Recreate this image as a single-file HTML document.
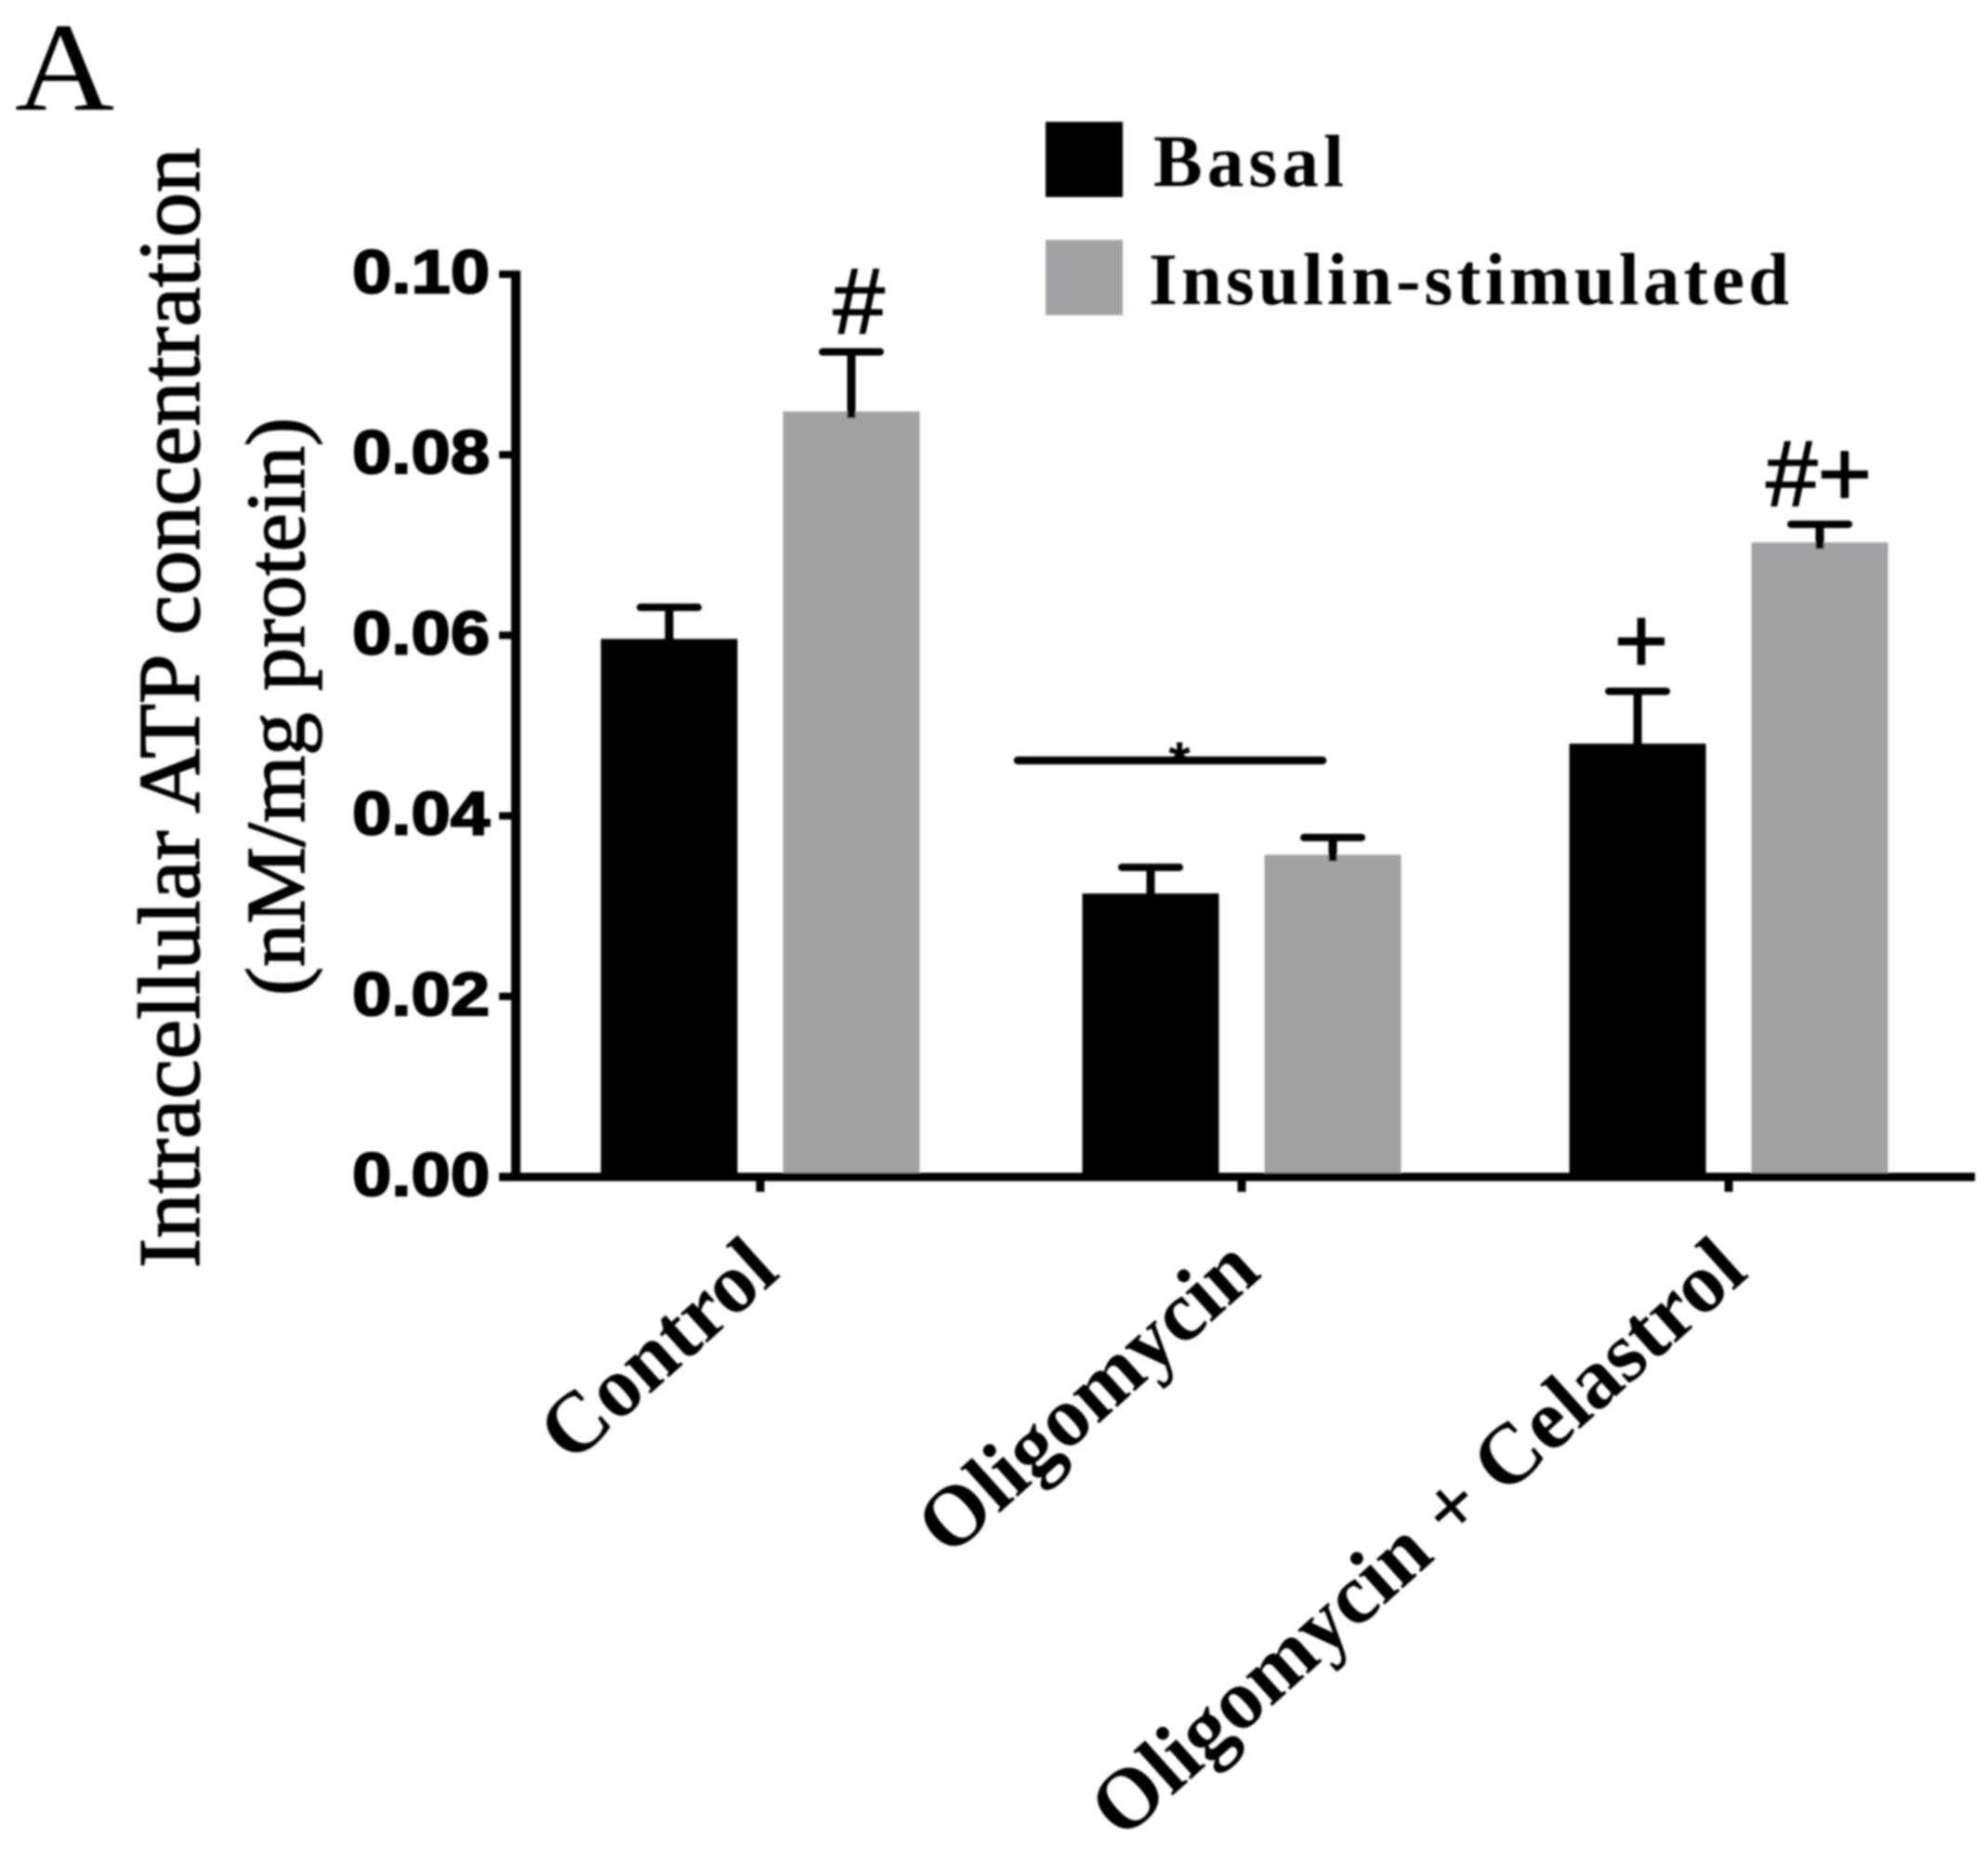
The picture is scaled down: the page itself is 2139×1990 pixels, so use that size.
<!DOCTYPE html>
<html lang="en">
<head>
<meta charset="utf-8">
<title>Intracellular ATP concentration</title>
<style>
html,body{margin:0;padding:0;background:#fff;width:2139px;height:1990px;overflow:hidden}
svg{display:block}
.serif{font-family:"Liberation Serif",serif}
.sans{font-family:"Liberation Sans",sans-serif}
</style>
</head>
<body>
<svg id="chart" xmlns="http://www.w3.org/2000/svg" width="2139" height="1990" viewBox="0 0 2139 1990">
  <defs><filter id="soft" x="-2%" y="-2%" width="104%" height="104%"><feGaussianBlur stdDeviation="1.1"/></filter></defs>
  <rect width="2139" height="1990" fill="#fff"/>
  <g id="root" filter="url(#soft)">
    <text class="serif" x="16" y="118" font-size="136" textLength="107" lengthAdjust="spacingAndGlyphs">A</text>
    <text class="serif" transform="translate(214,1364) rotate(-90)" font-size="94" stroke="#000" stroke-width="1.5" textLength="1205" lengthAdjust="spacingAndGlyphs">Intracellular ATP concentration</text>
    <text class="serif" transform="translate(327,1071) rotate(-90)" font-size="90" stroke="#000" stroke-width="1.5" textLength="622" lengthAdjust="spacingAndGlyphs">(nM/mg protein)</text>
    <rect x="1125" y="131" width="83" height="81" fill="#000"/>
    <rect x="1125" y="258" width="83" height="81" fill="#a3a1a6"/>
    <text class="serif" x="1241" y="200" font-size="79" font-weight="700" textLength="205">Basal</text>
    <text class="serif" x="1236" y="327" font-size="79" font-weight="700" textLength="689">Insulin-stimulated</text>
    <g id="marks"></g>
    <line x1="1095" y1="818" x2="1423" y2="818" stroke="#000" stroke-width="8.5" stroke-linecap="round"/>
    <text class="sans" x="1269" y="840" font-size="60" font-weight="700" text-anchor="middle">*</text>
  </g>
</svg>
<script>
const categories = ["Control", "Oligomycin", "Oligomycin + Celastrol"];
const basalValues = [0.0596, 0.0314, 0.048];
const insulinValues = [0.0848, 0.0357, 0.0703];
const basalErrors = [0.0035, 0.0029, 0.0058];
const insulinErrors = [0.0066, 0.0019, 0.002];
const basalMarks = ["", "", "+"];
const insulinMarks = ["#", "", "#+"];
const yTicks = [0, 0.02, 0.04, 0.06, 0.08, 0.1];
const yTickLabels = ["0.00", "0.02", "0.04", "0.06", "0.08", "0.10"];

const NS = "http://www.w3.org/2000/svg";
const marks = document.getElementById("marks");
const GRAY = "#a3a1a6";
const Y0 = 1266, Y_PER_UNIT = 9710;
function yScale(v) { return Y0 - v * Y_PER_UNIT; }
// Group centre positions on the category axis
const groupCentres = [818, 1336, 1860];
function xScale(i) { return groupCentres[i]; }
const BAR_W = 147, BAR_OFFSET = 98;
function annotShift(s) { return s === "#" ? 8 : (s === "+" ? 4 : -1); }

function make(tag, attrs, text) {
  const el = document.createElementNS(NS, tag);
  for (const k in attrs) el.setAttribute(k, attrs[k]);
  if (text !== undefined) el.textContent = text;
  marks.appendChild(el);
  return el;
}

function drawSeries(values, errors, annots, side, fill, key) {
  values.forEach(function (v, i) {
    const cx = xScale(i) + side * BAR_OFFSET;
    const bar = make("rect", { x: cx - BAR_W / 2, y: yScale(v), width: BAR_W, height: Y0 - yScale(v), fill: fill });
    
    
    const top = yScale(v + errors[i]);
    const stem = make("line", { x1: cx, y1: top, x2: cx, y2: yScale(v) + 7, stroke: "#000", "stroke-width": 9 });
    
    
    const cap = make("line", { x1: cx - 31, y1: top, x2: cx + 31, y2: top, stroke: "#000", "stroke-width": 8, "stroke-linecap": "round" });
    
    
    if (annots[i]) {
      const t = make("text", { x: cx + annotShift(annots[i]), y: top - 20, "font-size": 100, "text-anchor": "middle", "font-family": '"Liberation Sans",sans-serif', stroke: "#000", "stroke-width": 1.5 }, annots[i]);
      
      
    }
  });
}

drawSeries(basalValues, basalErrors, basalMarks, -1, "#000", "basal");
drawSeries(insulinValues, insulinErrors, insulinMarks, 1, GRAY, "insulin");

const yAxis = make("line", { x1: 555, y1: yScale(0.1) - 4, x2: 555, y2: Y0 + 4, stroke: "#000", "stroke-width": 10 });


const xAxis = make("line", { x1: 537, y1: Y0, x2: 2125, y2: Y0, stroke: "#000", "stroke-width": 9 });



yTicks.forEach(function (v, i) {
  const tick = make("line", { x1: 537, y1: yScale(v), x2: 552, y2: yScale(v), stroke: "#000", "stroke-width": 8 });
  
  
  const label = make("text", { x: 379, y: yScale(v) + 20, "font-size": 66, "font-weight": 700, textLength: 148, lengthAdjust: "spacingAndGlyphs", "font-family": '"Liberation Sans",sans-serif', stroke: "#000", "stroke-width": 2 }, yTickLabels[i]);
  
  
});

categories.forEach(function (c, i) {
  const cx = xScale(i);
  const tick = make("line", { x1: cx, y1: Y0, x2: cx, y2: Y0 + 16, stroke: "#000", "stroke-width": 9 });
  
  
  const label = make("text", { transform: "translate(" + (cx + 23) + ",1372) rotate(-42)", "font-size": 92, "font-weight": 700, "text-anchor": "end", "font-family": '"Liberation Serif",serif' }, c);
  
  
});
</script>
</body>
</html>
